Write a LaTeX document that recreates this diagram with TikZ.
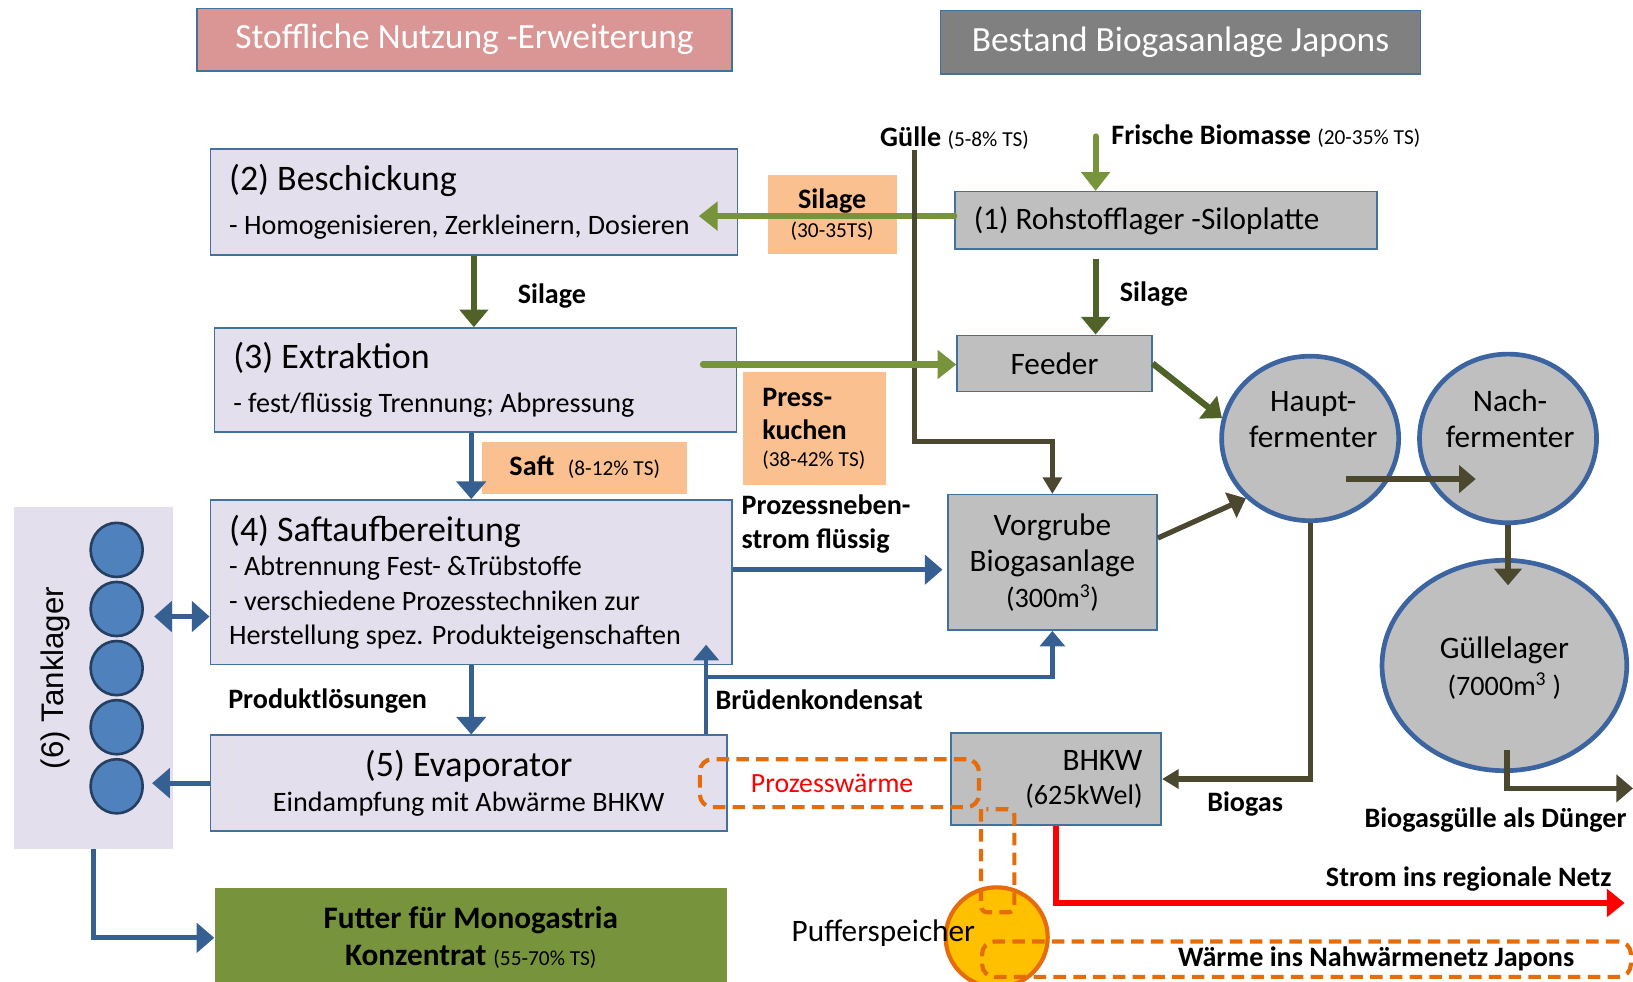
\documentclass[tikz,border=0pt]{standalone}
\usepackage{fontspec}
\setmainfont{Carlito}
\newfontfamily\tankfont{Liberation Sans}
\usetikzlibrary{positioning,arrows.meta,shapes.geometric}
\setlength{\parindent}{0pt}

\definecolor{lilac}{HTML}{E4DFEC}
\definecolor{rim}{HTML}{41719C}
\definecolor{silo}{HTML}{BFBFBF}
\definecolor{hdrpink}{HTML}{D99694}
\definecolor{hdrgray}{HTML}{808080}
\definecolor{tagorange}{HTML}{FAC090}
\definecolor{grass}{HTML}{77933C}
\definecolor{darkgrass}{HTML}{4F6228}
\definecolor{mud}{HTML}{4C4830}
\definecolor{flowblue}{HTML}{376092}
\definecolor{tankblue}{HTML}{4F81BD}
\definecolor{tankrim}{HTML}{243F60}
\definecolor{vesselrim}{HTML}{3B64A0}
\definecolor{heat}{HTML}{E46C0A}
\definecolor{puffer}{HTML}{FFC000}

\newcommand{\fsz}[2]{\fontsize{#1}{#2}\selectfont}

\begin{document}
\begin{tikzpicture}
      [x=1pt, y=-1pt,
       header/.style={draw=rim, line width=1.5pt, text=white, font=\fsz{34}{40}},
       stage/.style={draw=rim, line width=1.5pt, fill=lilac, inner xsep=18pt, inner ysep=0pt},
       plant/.style={draw=rim, line width=1.5pt, fill=silo, font=\fsz{30}{35}, inner xsep=18pt, inner ysep=0pt},
       vessel/.style={ellipse, draw=vesselrim, line width=4.5pt, fill=silo, inner sep=0pt},
       tank/.style={ellipse, draw=tankrim, line width=2.5pt, fill=tankblue, minimum width=50pt,
                    minimum height=52pt, inner sep=0pt, node distance=56.75pt},
       tag/.style={fill=tagorange, inner sep=0pt},
       flowlabel/.style={font=\bfseries\fsz{27}{32}, inner sep=0pt},
       heatloop/.style={draw=heat, line width=4pt, dash pattern=on 12pt off 7pt, rounded corners=12pt},
       feed/.style={color=grass, line width=6pt, line cap=round, -{Triangle[width=27pt,length=18pt]}},
       silage/.style={color=darkgrass, line width=6pt, -{Triangle[width=27pt,length=17pt]}},
       juice/.style={color=flowblue, line width=5pt, -{Triangle[width=28pt,length=17pt]}},
       juiceboth/.style={color=flowblue, line width=5pt,
                         {Triangle[width=29pt,length=17pt]}-{Triangle[width=29pt,length=17pt]}},
       brueden/.style={color=flowblue, line width=4.5pt, -{Triangle[width=24pt,length=15pt]}},
       manure/.style={color=mud, line width=5pt, -{Triangle[width=18pt,length=16pt]}},
       digest/.style={color=mud, line width=5pt, -{Triangle[width=26pt,length=16pt]}},
       power/.style={color=red, line width=5pt, -{Triangle[width=26pt,length=17pt]}},
      ]
      \useasboundingbox (0,0) rectangle (1568,942);
      \clip (0,0) rectangle (1568,942);

      \node[header, fill=hdrpink, minimum width=514pt, minimum height=60pt] (hdrUse) at (446,38) {Stoffliche Nutzung -Erweiterung};
      \node[header, fill=hdrgray, minimum width=461pt, minimum height=61pt] (hdrPlant) at (1133.5,40.5) {Bestand Biogasanlage Japons};

      \node[stage, minimum width=506pt, minimum height=102pt, text width=470pt, align=flush left] (besch) at (455,194)
        {\fsz{34.5}{41}(2) Beschickung\\\fsz{27}{42}- Homogenisieren, Zerkleinern, Dosieren\par};
      \node[stage, minimum width=501pt, minimum height=100pt, text width=465pt, align=flush left] (extr) at (456.5,365)
        {\fsz{34.5}{41}(3) Extraktion\\\fsz{27}{42}- fest/flüssig Trennung; Abpressung\par};
      \node[stage, minimum width=501pt, minimum height=158pt, text width=465pt, align=flush left] (saft) at (452.5,559)
        {\fsz{34.5}{41}(4) Saftaufbereitung\\\fsz{27}{33}- Abtrennung Fest- \&Trübstoffe\\- verschiedene Prozesstechniken zur\\Herstellung spez. Produkteigenschaften\par};
      \node[stage, minimum width=496pt, minimum height=92pt, text width=460pt, align=flush center] (evap) at (450,752)
        {\fsz{34.5}{41}(5) Evaporator\\\fsz{27}{33.5}Eindampfung mit Abwärme BHKW\par};

      \node[fill=lilac, minimum width=153pt, minimum height=328pt, inner sep=0pt] (store) at (89.5,651) {};
      \node[rotate=90, font=\tankfont\fsz{30}{36}] (storeTxt) at (53,651) {(6) Tanklager};
      \node[tank] (t1) at (112,528) {};
      \node[tank, below of=t1] (t2) {};
      \node[tank, below of=t2] (t3) {};
      \node[tank, below of=t3] (t4) {};
      \node[tank, below of=t4] (t5) {};

      \node[fill=grass, minimum width=492pt, minimum height=95pt, text width=470pt, align=flush center,
            font=\bfseries\fsz{30}{35.2}] (futter) at (452,900.5)
        {Futter für Monogastria\\Konzentrat {\mdseries\fsz{20.5}{35.2}(55-70\% TS)}};

      \node[tag, minimum width=124pt, minimum height=76pt, text width=110pt, align=flush center] (tagSil) at (799,206)
        {\bfseries\fsz{27}{28}Silage\\\mdseries\fsz{20.5}{28}(30-35TS)\par};
      \node[tag, minimum width=197pt, minimum height=50pt] (tagSaft) at (561.5,449)
        {\bfseries\fsz{27}{32}Saft\hspace{13pt}{\mdseries\fsz{20.5}{24}(8-12\% TS)}};
      \node[tag, minimum width=138pt, minimum height=109pt, text width=100pt, align=flush left] (tagPress) at (782,411.5)
        {\bfseries\fsz{27}{25.6}Press-\\[6.4pt]kuchen\\\mdseries\fsz{20.5}{25.6}(38-42\% TS)\par};

      \node[plant, minimum width=405pt, minimum height=55pt, text width=369pt, align=flush left] (roh) at (1119.5,211.5)
        {(1) Rohstofflager -Siloplatte};
      \node[plant, minimum width=187pt, minimum height=54pt] (feeder) at (1012.5,349) {Feeder};
      \node[plant, minimum width=201pt, minimum height=130pt, text width=165pt, align=flush center] (vorgrube) at (1010.5,540)
        {Vorgrube\\Biogasanlage\\\fsz{27}{34.3}(300m\textsuperscript{3})\par};
      \node[plant, minimum width=202pt, minimum height=88pt, text width=166pt, align=flush right] (bhkw) at (1014,748)
        {BHKW\\\fsz{27}{32.5}(625kWel)\par};

      \node[vessel, minimum width=170pt, minimum height=158pt] (haupt) at (1258,421) {};
      \node[vessel, minimum width=170pt, minimum height=162pt] (nach) at (1448,421) {};
      \node[vessel, minimum width=235pt, minimum height=202pt] (lager) at (1444.5,639) {};
      \node[font=\fsz{30}{35}, align=center] (hauptTxt) at (1261,403) {Haupt-\\fermenter};
      \node[font=\fsz{30}{35}, align=center] (nachTxt) at (1450,402) {Nach-\\fermenter};
      \node[font=\fsz{30}{35}, align=center] (lagerTxt) at (1444.5,641.5) {Güllelager\\\fsz{27}{35}(7000m\textsuperscript{3} )};

      \node[ellipse, fill=puffer, draw=heat, line width=4pt, minimum width=98pt, minimum height=96pt,
            inner sep=0pt] (puffer) at (957,900) {};

      \coordinate (bioIn) at (1052,131);
      \coordinate (beschIn) at (671,207.5);
      \coordinate (pressOut) at (675,350);
      \coordinate (nebenIn) at (905,547);
      \coordinate (brIn) at (678,619);
      \coordinate (brJoin) at (678,650);
      \coordinate (tankIO) at (148,592);
      \coordinate (tankIn) at (146,752);
      \coordinate (guelleIn) at (878,144);
      \coordinate (guelleBend) at (878,424);
      \coordinate (digOut) at (1292,460);
      \coordinate (digIn) at (1417,460);
      \coordinate (lagerIn) at (1448,562);
      \coordinate (dungOut) at (1447,720);
      \coordinate (dungEnd) at (1568,757);
      \coordinate (netOut) at (1560,867);

      \draw[feed] (bioIn) -- (bioIn |- roh.north);
      \draw[feed] (roh.west |- beschIn) -- (beschIn);
      \draw[silage, shorten <=9pt] (roh.south -| bioIn) -- (feeder.north -| bioIn);
      \draw[silage] (besch.south) -- (besch.south |- extr.north);
      \draw[manure] (guelleIn) -- (guelleBend) -| (vorgrube.north);
      \draw[feed] (pressOut) -- (pressOut -| feeder.west);
      \draw[silage] (feeder.east) -- (haupt.167);

      \draw[juice] (extr.south -| saft.north) -- (saft.north);
      \draw[juice] (saft.east |- nebenIn) -- (nebenIn);
      \draw[juice] (saft.south) -- (saft.south |- evap.north);
      \draw[brueden] (evap.north -| brIn) -- (brIn);
      \draw[brueden] (brJoin) -| (vorgrube.south);
      \draw[juiceboth] (tankIO) -- (tankIO -| saft.west);
      \draw[juice] (evap.west) -- (tankIn);
      \draw[juice] (store.south) |- (futter.west);

      \draw[digest] (vorgrube.13) -- (haupt.223);
      \draw[digest] (digOut) -- (digIn);
      \draw[digest] (nach.south) -- (lagerIn);
      \draw[manure] (haupt.south) |- (bhkw.east);
      \draw[digest] (dungOut) |- (dungEnd);
      \draw[power] (bhkw.south) |- (netOut);

      \node[heatloop, minimum width=268pt, minimum height=46pt, text width=170pt, align=flush left, text=red,
            font=\fsz{26.7}{30}, inner sep=0pt] (prozess) at (806,752) {Prozesswärme};
      \draw[heatloop, rounded corners=6pt] (prozess.south east) -- ++(0,99) -- ++(32,0) -- ++(0,-99) -- ++(-27,0);
      \node[heatloop, minimum width=623pt, minimum height=34pt] (netz) at (1254.5,921) {};

      \node[flowlabel, anchor=base west] (guelleTxt) at (845,140.8) {Gülle {\mdseries\fsz{20.5}{24}(5-8\% TS)}};
      \node[flowlabel, anchor=base west] (bioTxt) at (1067,139.2) {Frische Biomasse {\mdseries\fsz{20.5}{24}(20-35\% TS)}};
      \node[flowlabel, anchor=base west] (silTxtA) at (1075,289.6) {Silage};
      \node[flowlabel, anchor=base west] (silTxtB) at (497,291.2) {Silage};
      \node[flowlabel, anchor=base west, text width=170pt, align=flush left] (nebenTxt) at (712,494.4) {Prozessneben-\\strom flüssig};
      \node[flowlabel, anchor=base west] (produktTxt) at (219,680) {Produktlösungen};
      \node[flowlabel, anchor=base west] (bruedenTxt) at (687,681.6) {Brüdenkondensat};
      \node[flowlabel, anchor=base west] (biogasTxt) at (1159,779) {Biogas};
      \node[flowlabel, anchor=base west] (duengerTxt) at (1310,795) {Biogasgülle als Dünger};
      \node[flowlabel, anchor=base west] (stromTxt) at (1273,851) {Strom ins regionale Netz};
      \node[anchor=base west, font=\fsz{30}{35}, inner sep=0pt] (pufferTxt) at (760,904) {Pufferspeicher};
      \node[flowlabel, anchor=base west] (netzTxt) at (1131,928) {Wärme ins Nahwärmenetz Japons};
    \end{tikzpicture}
\end{document}
